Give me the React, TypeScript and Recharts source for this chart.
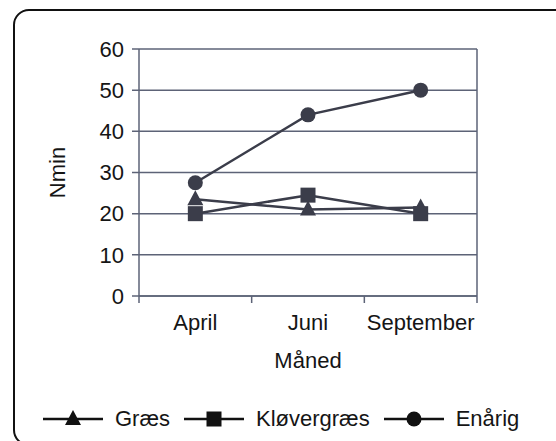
import { LineChart, Line, XAxis, YAxis, CartesianGrid, Legend, Label } from 'recharts';

const months = ['April', 'Juni', 'September'];
const graes = [23.5, 21, 21.5];
const klovergraes = [20, 24.5, 20];
const enaarig = [27.5, 44, 50];
const yTicks = [0, 10, 20, 30, 40, 50, 60];

const data = months.map((m, i) => ({ month: m, graes: graes[i], klovergraes: klovergraes[i], enaarig: enaarig[i] }));

const INK = '#3b3d4a';
const AXIS = '#5d6377';
const TEXT = '#151515';
const FONT = '"Liberation Sans", Arial, sans-serif';

function Tri({ cx, cy, fill = INK }: { cx: number; cy: number; fill?: string }) {
  return <path d={`M${cx},${cy - 9} L${cx + 8},${cy + 6} L${cx - 8},${cy + 6} Z`} fill={fill} />;
}
function Sq({ cx, cy, fill = INK }: { cx: number; cy: number; fill?: string }) {
  return <rect x={cx - 7.5} y={cy - 7.5} width={15} height={15} fill={fill} />;
}
function Dot({ cx, cy, fill = INK }: { cx: number; cy: number; fill?: string }) {
  return <circle cx={cx} cy={cy} r={7.5} fill={fill} />;
}

const series = [
  { key: 'graes', name: 'Græs', Marker: Tri },
  { key: 'klovergraes', name: 'Kløvergræs', Marker: Sq },
  { key: 'enaarig', name: 'Enårig', Marker: Dot },
];

function MonthTick(props: any) {
  const { x, y, payload, index } = props;
  const half = payload.offset ?? 0;
  return (
    <g>
      <line x1={x - half} x2={x - half} y1={y} y2={y + 7} stroke={AXIS} strokeWidth={1.5} />
      {index === months.length - 1 && <line x1={x + half} x2={x + half} y1={y} y2={y + 7} stroke={AXIS} strokeWidth={1.5} />}
      <text x={x} y={y + 34} textAnchor="middle" fill={TEXT} fontSize={22} fontFamily={FONT}>
        {payload.value}
      </text>
    </g>
  );
}

function LegendRow() {
  return (
    <div style={{ display: 'flex', alignItems: 'center', height: 30, paddingLeft: 28, fontFamily: FONT, fontSize: 22, color: TEXT }}>
      {series.map(({ key, name, Marker }) => (
        <div key={key} style={{ display: 'flex', alignItems: 'center', marginRight: 14 }}>
          <svg width={60} height={20}>
            <line x1={0} x2={60} y1={10} y2={10} stroke="#111" strokeWidth={2.5} />
            <Marker cx={30} cy={10} fill="#111" />
          </svg>
          <span style={{ marginLeft: 12 }}>{name}</span>
        </div>
      ))}
    </div>
  );
}

export default function App() {
  return (
    <div style={{ position: 'fixed', left: 13, top: 9, width: 562, height: 437, border: '2px solid #111', borderRadius: 16, boxSizing: 'border-box', overflow: 'hidden', background: '#fff' }}>
      <LineChart width={544} height={433} data={data} margin={{ top: 38, right: 82, left: 0, bottom: 10 }} style={{ fontFamily: FONT }}>
        <CartesianGrid
          stroke={AXIS}
          strokeWidth={1.5}
          verticalCoordinatesGenerator={({ offset }: any) => [offset.left + offset.width]}
        />
        <XAxis dataKey="month" scale="band" height={108} tickSize={0} tickMargin={0} tickLine={false} axisLine={{ stroke: AXIS, strokeWidth: 1.5 }} tick={<MonthTick />} interval={0}>
          <Label
            content={({ viewBox }: any) => (
              <text x={viewBox.x + viewBox.width / 2} y={viewBox.y + 72} textAnchor="middle" fill={TEXT} fontSize={22} fontFamily={FONT}>
                Måned
              </text>
            )}
          />
        </XAxis>
        <YAxis
          width={124}
          domain={[0, 60]}
          ticks={yTicks}
          tickSize={7}
          tickMargin={8}
          axisLine={{ stroke: AXIS, strokeWidth: 1.5 }}
          tickLine={{ stroke: AXIS, strokeWidth: 1.5 }}
          tick={{ fill: TEXT, fontSize: 22, fontFamily: FONT }}
        >
          <Label
            content={({ viewBox }: any) => {
              const cy = viewBox.y + viewBox.height / 2;
              return (
                <text x={42} y={cy} transform={`rotate(-90 42 ${cy})`} textAnchor="middle" dominantBaseline="central" fill={TEXT} fontSize={22} fontFamily={FONT}>
                  Nmin
                </text>
              );
            }}
          />
        </YAxis>
        <Legend verticalAlign="bottom" content={() => <LegendRow />} />
        {series.map(({ key, name, Marker }) => (
          <Line
            key={key}
            dataKey={key}
            name={name}
            stroke={INK}
            strokeWidth={2.5}
            isAnimationActive={false}
            dot={(p: any) => <Marker key={`${key}-${p.index}`} cx={p.cx} cy={p.cy} />}
            activeDot={false}
          />
        ))}
      </LineChart>
    </div>
  );
}
